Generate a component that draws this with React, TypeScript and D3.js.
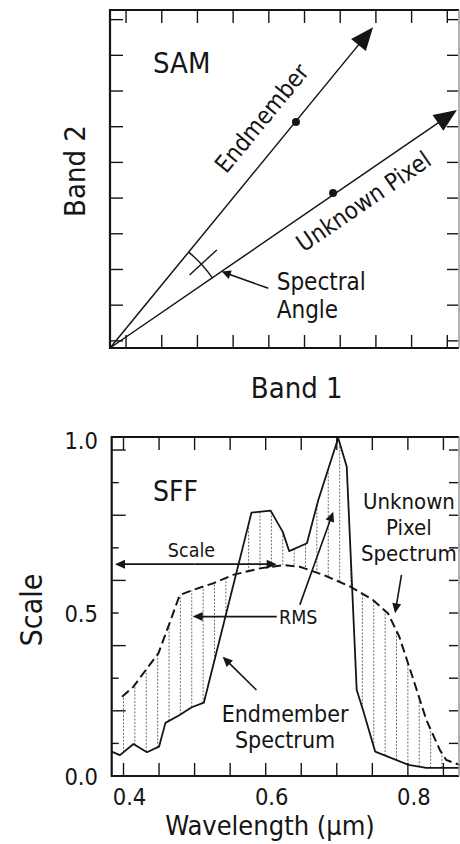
import React from "react";
import * as d3 from "d3";

const W = 460;
const H = 844;
const FONT = "'DejaVu Sans Condensed', 'DejaVu Sans', sans-serif";
const INK = "#151515";

// ---------- SAM panel (band units from the origin) ----------
const samXTicks = d3.range(0.45, 9.6, 1);
const samYTicks = d3.range(0.2, 9.3, 1);
const endmemberTip = [7.37, 8.99];
const endmemberDot = [5.21, 6.33];
const unknownTip = [9.72, 6.67];
const unknownDot = [6.25, 4.34];

// ---------- SFF panel data ----------
const endmemberWl = [0.3834, 0.395, 0.414, 0.433, 0.45, 0.459, 0.479, 0.496, 0.513, 0.58, 0.607, 0.624, 0.633, 0.658, 0.674, 0.702, 0.714, 0.728, 0.737, 0.754, 0.801, 0.826, 0.873];
const endmemberVal = [0.075, 0.064, 0.098, 0.073, 0.09, 0.163, 0.187, 0.211, 0.225, 0.808, 0.814, 0.749, 0.69, 0.714, 0.847, 1.037, 0.949, 0.264, 0.202, 0.075, 0.034, 0.025, 0.025];
const unknownWl = [0.398, 0.414, 0.433, 0.449, 0.463, 0.479, 0.498, 0.526, 0.554, 0.592, 0.625, 0.648, 0.681, 0.719, 0.751, 0.772, 0.788, 0.808, 0.826, 0.845, 0.854, 0.873];
const unknownVal = [0.243, 0.274, 0.33, 0.376, 0.458, 0.555, 0.571, 0.591, 0.617, 0.637, 0.647, 0.642, 0.617, 0.581, 0.54, 0.499, 0.427, 0.294, 0.172, 0.08, 0.049, 0.034];
const xTickValues = d3.range(0.4, 0.86, 0.05);
const xTickLabels = ["0.4", "0.6", "0.8"];
const yTickValues = d3.range(0, 1.01, 0.1);
const yTickLabels = ["0.0", "0.5", "1.0"];
const hatchWl = d3.range(0.4, 0.86, 0.016);

function arrow(x1: number, y1: number, x2: number, y2: number, len: number, hw: number, sw: number, key: string) {
  const dx = x2 - x1, dy = y2 - y1;
  const d = Math.hypot(dx, dy);
  const ux = dx / d, uy = dy / d;
  const bx = x2 - ux * len, by = y2 - uy * len;
  return (
    <g key={key}>
      <line x1={x1} y1={y1} x2={bx + ux * 2} y2={by + uy * 2} stroke={INK} strokeWidth={sw} />
      <path d={`M${x2},${y2}L${bx - uy * hw},${by + ux * hw}L${bx + uy * hw},${by - ux * hw}Z`} fill={INK} />
    </g>
  );
}

function interp(xs: number[], ys: number[], x: number) {
  if (x < xs[0] || x > xs[xs.length - 1]) return null;
  const i = Math.min(d3.bisectRight(xs, x), xs.length - 1);
  const i0 = Math.max(i - 1, 0);
  const t = xs[i] === xs[i0] ? 0 : (x - xs[i0]) / (xs[i] - xs[i0]);
  return ys[i0] + t * (ys[i] - ys[i0]);
}

export default function App() {
  // SAM scales
  const sx = d3.scaleLinear().domain([0, 9.75]).range([110, 458]);
  const sy = d3.scaleLinear().domain([0, 9.47]).range([348, 10]);
  const ox = sx(0), oy = sy(0);

  const vec = (tip: number[]) => {
    const tx = sx(tip[0]), ty = sy(tip[1]);
    const d = Math.hypot(tx - ox, ty - oy);
    return { tx, ty, ux: (tx - ox) / d, uy: (ty - oy) / d, ang: Math.atan2(ty - oy, tx - ox) };
  };
  const eV = vec(endmemberTip);
  const uV = vec(unknownTip);

  const arcR = 124;
  const arcPath = d3.path();
  arcPath.arc(ox, oy, arcR, uV.ang, eV.ang, true);
  const mid = (uV.ang + eV.ang) / 2;

  // label positions along vectors
  const eAlong = 274, ePerp = 20;
  const eLx = ox + eV.ux * eAlong + eV.uy * ePerp;
  const eLy = oy + eV.uy * eAlong - eV.ux * ePerp;
  const uAlong = 292, uPerp = -31;
  const uLx = ox + uV.ux * uAlong + uV.uy * uPerp;
  const uLy = oy + uV.uy * uAlong - uV.ux * uPerp;

  // SFF scales
  const bx = d3.scaleLinear().domain([0.3834, 0.8705]).range([111.7, 458]);
  const by = d3.scaleLinear().domain([0, 1.04]).range([776, 437]);

  const lineGen = d3.line<[number, number]>().x((d) => bx(d[0])).y((d) => by(d[1]));
  const endPts = endmemberWl.map((w, i) => [w, endmemberVal[i]] as [number, number]);
  const unkPts = unknownWl.map((w, i) => [w, unknownVal[i]] as [number, number]);

  const hatches = hatchWl
    .map((w) => {
      const a = interp(endmemberWl, endmemberVal, w);
      const b = interp(unknownWl, unknownVal, w);
      if (a === null || b === null || Math.abs(a - b) < 0.02) return null;
      return { w, a, b };
    })
    .filter(Boolean) as { w: number; a: number; b: number }[];

  return (
    <svg width={W} height={H} style={{ position: "absolute", left: 0, top: 0, background: "#fff" }} fontFamily={FONT}>
      <defs>
        <clipPath id="clipAll">
          <rect x={0} y={0} width={W} height={H} />
        </clipPath>
      </defs>
      <rect x={0} y={0} width={W} height={H} fill="#fff" />

      {/* ---------------- SAM panel ---------------- */}
      <g>
        {samXTicks.map((t) => (
          <g key={"sxt" + t}>
            <line x1={sx(t)} x2={sx(t)} y1={sy(9.47)} y2={sy(9.47) + 13} stroke={INK} strokeWidth={1.4} />
            <line x1={sx(t)} x2={sx(t)} y1={oy} y2={oy - 13} stroke={INK} strokeWidth={1.4} />
          </g>
        ))}
        {samYTicks.map((t) => (
          <g key={"syt" + t}>
            <line x1={ox} x2={ox + 13} y1={sy(t)} y2={sy(t)} stroke={INK} strokeWidth={1.4} />
            <line x1={sx(9.75)} x2={sx(9.75) - 11} y1={sy(t)} y2={sy(t)} stroke={INK} strokeWidth={1.4} />
          </g>
        ))}
        <line x1={ox} y1={sy(9.47)} x2={sx(9.75) + 1} y2={sy(9.47)} stroke={INK} strokeWidth={2.2} />
        <line x1={ox} y1={oy} x2={sx(9.75) + 1} y2={oy} stroke={INK} strokeWidth={2.2} />
        <line x1={ox} y1={sy(9.47) - 1} x2={ox} y2={oy + 1} stroke={INK} strokeWidth={2.2} />
        <line x1={sx(9.75) + 1} y1={sy(9.47)} x2={sx(9.75) + 1} y2={oy} stroke="#999" strokeWidth={1.5} />

        {arrow(ox, oy, eV.tx, eV.ty, 23, 9.5, 1.5, "ea")}
        {arrow(ox, oy, uV.tx, uV.ty, 23, 9.5, 1.5, "ua")}
        <circle cx={sx(endmemberDot[0])} cy={sy(endmemberDot[1])} r={4} fill={INK} />
        <circle cx={sx(unknownDot[0])} cy={sy(unknownDot[1])} r={4} fill={INK} />

        <path d={arcPath.toString()} fill="none" stroke={INK} strokeWidth={1.4} />
        <line
          x1={ox + Math.cos(mid) * 108}
          y1={oy + Math.sin(mid) * 108}
          x2={ox + Math.cos(mid) * 145}
          y2={oy + Math.sin(mid) * 145}
          stroke={INK}
          strokeWidth={1.4}
        />
        {arrow(sx(4.435), sy(1.673), sx(3.13), sy(2.14), 9, 4.5, 1.5, "sa")}

        <text x={sx(1.205)} y={sy(7.7)} fontSize={29} fill={INK}>SAM</text>
        <text
          x={eLx}
          y={eLy}
          fontSize={24}
          fill={INK}
          textAnchor="middle"
          transform={`rotate(${(eV.ang * 180) / Math.PI},${eLx},${eLy})`}
        >
          Endmember
        </text>
        <text
          x={uLx}
          y={uLy}
          fontSize={24}
          fill={INK}
          textAnchor="middle"
          transform={`rotate(${(uV.ang * 180) / Math.PI},${uLx},${uLy})`}
        >
          Unknown Pixel
        </text>
        <text x={sx(4.67)} y={sy(1.625)} fontSize={24} fill={INK}>Spectral</text>
        <text x={sx(4.67)} y={sy(0.83)} fontSize={24} fill={INK}>Angle</text>

        <text x={296.7} y={398} fontSize={29} fill={INK} textAnchor="middle">Band 1</text>
        <text x={85} y={171} fontSize={29} fill={INK} textAnchor="middle" transform="rotate(-90,85,171)">Band 2</text>
      </g>

      {/* ---------------- SFF panel ---------------- */}
      <g clipPath="url(#clipAll)">
        {hatches.map((h) => (
          <line
            key={"h" + h.w}
            x1={bx(h.w)}
            x2={bx(h.w)}
            y1={by(h.a)}
            y2={by(h.b)}
            stroke="#6f6f6f"
            strokeWidth={1}
            strokeDasharray="2,1.5"
          />
        ))}
        <path d={lineGen(endPts) || ""} fill="none" stroke={INK} strokeWidth={1.8} strokeLinejoin="round" />
        <path d={lineGen(unkPts) || ""} fill="none" stroke={INK} strokeWidth={2} strokeDasharray="9,4.5" />

        {xTickValues.map((t) => (
          <g key={"bxt" + t}>
            <line x1={bx(t)} x2={bx(t)} y1={by(0)} y2={by(0) - 13} stroke={INK} strokeWidth={1.4} />
            <line x1={bx(t)} x2={bx(t)} y1={by(1.04)} y2={by(1.04) + 13} stroke={INK} strokeWidth={1.4} />
          </g>
        ))}
        {yTickValues.map((t, i) => (
          <g key={"byt" + t}>
            <line x1={bx(0.3834)} x2={bx(0.3834) + (i % 2 === 0 ? 14 : 7)} y1={by(t)} y2={by(t)} stroke={INK} strokeWidth={1.4} />
            <line x1={bx(0.8705)} x2={bx(0.8705) - 9} y1={by(t)} y2={by(t)} stroke={INK} strokeWidth={1.4} />
          </g>
        ))}
        <line x1={bx(0.3834)} y1={by(1.04)} x2={bx(0.8705) + 1} y2={by(1.04)} stroke={INK} strokeWidth={2.2} />
        <line x1={bx(0.3834)} y1={by(0)} x2={bx(0.8705) + 1} y2={by(0)} stroke={INK} strokeWidth={2.2} />
        <line x1={bx(0.3834)} y1={by(1.04) - 1} x2={bx(0.3834)} y2={by(0) + 1} stroke={INK} strokeWidth={2.2} />
        <line x1={bx(0.8705) + 1} y1={by(1.04)} x2={bx(0.8705) + 1} y2={by(0)} stroke="#999" strokeWidth={1.5} />

        {xTickLabels.map((l) => (
          <text key={"xl" + l} x={bx(+l) + 6} y={805} fontSize={23.5} fill={INK} textAnchor="middle">{l}</text>
        ))}
        {yTickLabels.map((l) => (
          <text key={"yl" + l} x={98} y={by(+l) + (+l === 1 ? -1 : 9)} fontSize={23.5} fill={INK} textAnchor="end">{l}</text>
        ))}

        <text x={270} y={835} fontSize={27} fill={INK} textAnchor="middle">Wavelength (μm)</text>
        <text x={41.7} y={610} fontSize={30} fill={INK} textAnchor="middle" transform="rotate(-90,41.7,610)">Scale</text>

        <text x={bx(0.4415)} y={by(0.8436)} fontSize={28} fill={INK}>SFF</text>

        {/* Scale double arrow */}
        <text x={bx(0.4956)} y={by(0.672)} fontSize={19.5} fill={INK} textAnchor="middle">Scale</text>
        {arrow(bx(0.5), by(0.65), bx(0.388), by(0.65), 10, 4.5, 1.6, "sc1")}
        {arrow(bx(0.5), by(0.65), bx(0.6155), by(0.65), 10, 4.5, 1.6, "sc2")}

        {/* RMS */}
        <text x={bx(0.6187)} y={by(0.466)} fontSize={19.5} fill={INK}>RMS</text>
        {arrow(bx(0.6155), by(0.489), bx(0.4973), by(0.489), 10, 4.5, 1.6, "rm1")}
        {arrow(bx(0.648), by(0.525), bx(0.695), by(0.811), 10, 4.5, 1.6, "rm2")}

        {/* Endmember spectrum */}
        <text x={bx(0.6272)} y={by(0.1656)} fontSize={23} fill={INK} textAnchor="middle">Endmember</text>
        <text x={bx(0.6272)} y={by(0.0859)} fontSize={23} fill={INK} textAnchor="middle">Spectrum</text>
        {arrow(bx(0.587), by(0.264), bx(0.5395), by(0.366), 10, 4.5, 1.6, "em")}

        {/* Unknown pixel spectrum */}
        <text x={bx(0.8015)} y={by(0.8190)} fontSize={22} fill={INK} textAnchor="middle">Unknown</text>
        <text x={bx(0.8015)} y={by(0.7393)} fontSize={22} fill={INK} textAnchor="middle">Pixel</text>
        <text x={bx(0.8015)} y={by(0.6595)} fontSize={22} fill={INK} textAnchor="middle">Spectrum</text>
        {arrow(bx(0.791), by(0.617), bx(0.782), by(0.499), 10, 4.5, 1.6, "up")}
      </g>
    </svg>
  );
}
